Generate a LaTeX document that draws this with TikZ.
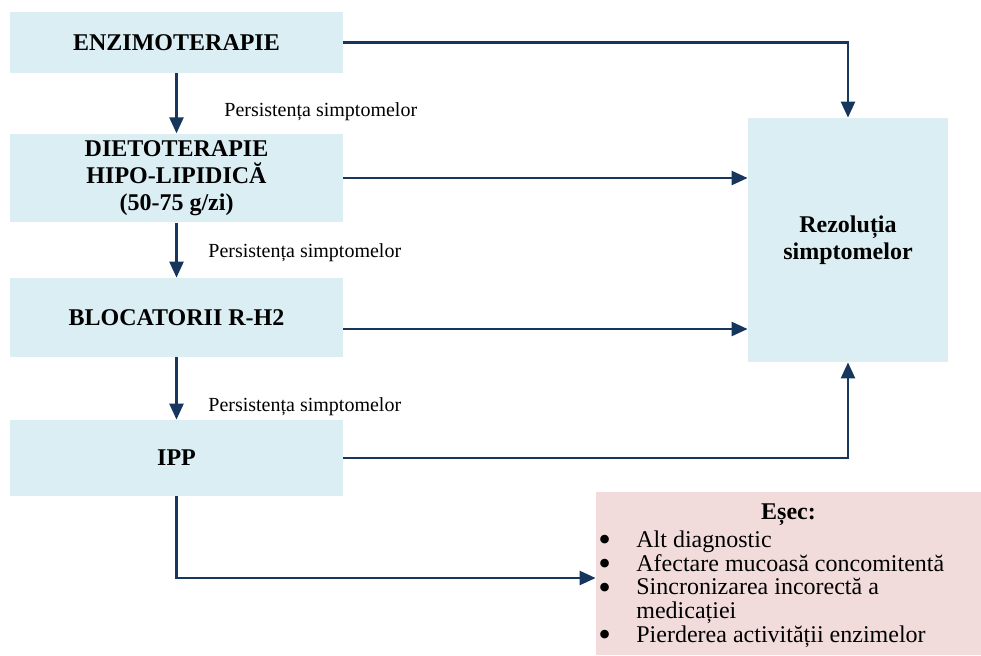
\documentclass[tikz,border=0pt]{standalone}
\usepackage{fontspec}
\setmainfont{Liberation Serif}
\usetikzlibrary{arrows.meta}
\definecolor{boxblue}{HTML}{DAEEF3}
\definecolor{boxpink}{HTML}{F2DCDB}
\definecolor{arrowblue}{HTML}{17365D}
\newcommand{\esecbullet}{\makebox[19pt][l]{\raisebox{-2.2pt}[0pt][0pt]{\scalebox{1.5}{\textbullet}}}}

\begin{document}
\begin{tikzpicture}[x=0.5pt, y=-0.5pt,
        stepbox/.style={fill=boxblue, minimum width=166.5pt, align=center,
            font=\bfseries\fontsize{12}{13.5}\selectfont},
        flow/.style={arrowblue, line width=1.25pt, -{Triangle[length=8pt,width=7pt]}},
        persist/.style={anchor=west, inner sep=0pt, font=\fontsize{10}{12}\selectfont}]
                \useasboundingbox (0,0) rectangle (981,655);

                % treatment steps
                \node[stepbox, minimum height=30.5pt] (enz) at (176.5,42.5) {ENZIMOTERAPIE};
                \node[stepbox, minimum height=40pt] (diet) at (176.5,178) {DIETOTERAPIE\\HIPO-LIPIDICĂ\\(50-75 g/zi)};
                \node[stepbox, minimum height=39.5pt] (bloc) at (176.5,317.5) {BLOCATORII R-H2};
                \node[stepbox, minimum height=38pt] (ipp) at (176.5,458) {IPP};

                % outcomes
                \node[stepbox, minimum width=100pt, minimum height=122pt] (rez) at (848,240) {Rezoluția\\simptomelor};
                \node[fill=boxpink, minimum width=192.5pt, minimum height=81.5pt] (esec) at (788.5,573.5) {};
                \node[font=\bfseries\fontsize{12}{13.5}\selectfont] (esectitle) at (788.5,515) {Eșec:};
                \node[anchor=base west, inner sep=0pt, font=\fontsize{12}{11.9}\selectfont] (esecitems) at (598,547)
                    {\begin{tabular}[t]{@{}l@{}}
                        \esecbullet Alt diagnostic\\
                        \esecbullet Afectare mucoasă concomitentă\\
                        \esecbullet Sincronizarea incorectă a\\
                        \hspace*{19pt}medicației\\
                        \esecbullet Pierderea activității enzimelor
                    \end{tabular}};

                % persistence labels
                \node[persist] (p1) at (224,112) {Persistența simptomelor};
                \node[persist] (p2) at (208,253) {Persistența simptomelor};
                \node[persist] (p3) at (208,407) {Persistența simptomelor};

                % arrows
                \draw[flow] (enz.south) -- (diet.north);
                \draw[flow] (diet.south) -- (bloc.north);
                \draw[flow] (bloc.south) -- (ipp.north);
                \draw[flow] (enz.east) -| (rez.north);
                \draw[flow] (diet.east) -- (diet.east -| rez.west);
                \draw[flow] ([yshift=-5.75pt]bloc.east) -- ([yshift=-5.75pt]bloc.east -| rez.west);
                \draw[flow] (ipp.east) -| (rez.south);
                \draw[flow] (ipp.south) |- ([yshift=-2.25pt]esec.west);
            \end{tikzpicture}
\end{document}
